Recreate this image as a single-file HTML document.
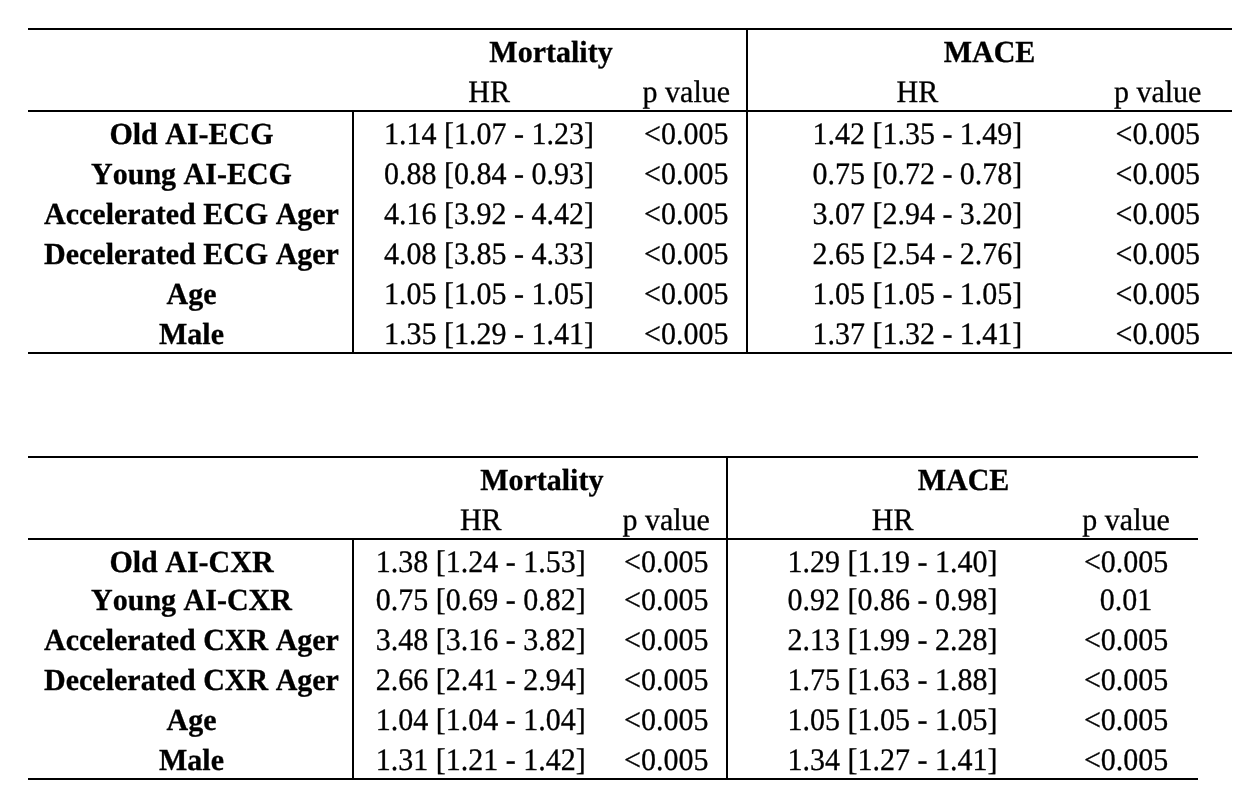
<!DOCTYPE html>
<html><head><meta charset="utf-8"><style>
html,body{margin:0;padding:0;background:#fff;width:1252px;height:808px;overflow:hidden;position:relative}
i{position:absolute;background:#000;display:block}
p{position:absolute;margin:0;text-rendering:geometricPrecision;font-kerning:none;width:600px;height:40px;line-height:40px;text-align:center;white-space:pre;
font-family:"Liberation Serif",serif;font-size:30px;color:#000;-webkit-text-stroke:0.3px #000;transform-origin:300px 30px;transform:scale(1.0,1.04)}
p.b{transform:scale(1.0,1.02)}
p.b{font-weight:bold}
body{will-change:transform}
</style></head><body>
<i style="left:28px;top:28px;width:1204px;height:2px"></i>
<i style="left:28px;top:110px;width:1204px;height:2px"></i>
<i style="left:28px;top:352px;width:1204px;height:2px"></i>
<i style="left:352px;top:110px;width:2px;height:244px"></i>
<i style="left:746px;top:28px;width:2px;height:326px"></i>
<p class="b" style="left:251.00px;top:33.00px">Mortality</p>
<p class="b" style="left:689.50px;top:33.00px">MACE</p>
<p style="left:189.10px;top:73.00px">HR</p>
<p style="left:386.30px;top:73.00px">p value</p>
<p style="left:617.40px;top:73.00px">HR</p>
<p style="left:857.70px;top:73.00px">p value</p>
<p class="b" style="left:-108.50px;top:115.00px">Old AI-ECG</p>
<p style="left:189.10px;top:115.00px">1.14 [1.07 - 1.23]</p>
<p style="left:386.30px;top:115.00px">&lt;0.005</p>
<p style="left:617.40px;top:115.00px">1.42 [1.35 - 1.49]</p>
<p style="left:857.70px;top:115.00px">&lt;0.005</p>
<p class="b" style="left:-108.50px;top:155.00px">Young AI-ECG</p>
<p style="left:189.10px;top:155.00px">0.88 [0.84 - 0.93]</p>
<p style="left:386.30px;top:155.00px">&lt;0.005</p>
<p style="left:617.40px;top:155.00px">0.75 [0.72 - 0.78]</p>
<p style="left:857.70px;top:155.00px">&lt;0.005</p>
<p class="b" style="left:-108.50px;top:195.00px">Accelerated ECG Ager</p>
<p style="left:189.10px;top:195.00px">4.16 [3.92 - 4.42]</p>
<p style="left:386.30px;top:195.00px">&lt;0.005</p>
<p style="left:617.40px;top:195.00px">3.07 [2.94 - 3.20]</p>
<p style="left:857.70px;top:195.00px">&lt;0.005</p>
<p class="b" style="left:-108.50px;top:235.00px">Decelerated ECG Ager</p>
<p style="left:189.10px;top:235.00px">4.08 [3.85 - 4.33]</p>
<p style="left:386.30px;top:235.00px">&lt;0.005</p>
<p style="left:617.40px;top:235.00px">2.65 [2.54 - 2.76]</p>
<p style="left:857.70px;top:235.00px">&lt;0.005</p>
<p class="b" style="left:-108.50px;top:275.00px">Age</p>
<p style="left:189.10px;top:275.00px">1.05 [1.05 - 1.05]</p>
<p style="left:386.30px;top:275.00px">&lt;0.005</p>
<p style="left:617.40px;top:275.00px">1.05 [1.05 - 1.05]</p>
<p style="left:857.70px;top:275.00px">&lt;0.005</p>
<p class="b" style="left:-108.50px;top:315.00px">Male</p>
<p style="left:189.10px;top:315.00px">1.35 [1.29 - 1.41]</p>
<p style="left:386.30px;top:315.00px">&lt;0.005</p>
<p style="left:617.40px;top:315.00px">1.37 [1.32 - 1.41]</p>
<p style="left:857.70px;top:315.00px">&lt;0.005</p>
<i style="left:28px;top:456px;width:1170px;height:2px"></i>
<i style="left:28px;top:538px;width:1170px;height:2px"></i>
<i style="left:28px;top:778px;width:1170px;height:2px"></i>
<i style="left:352px;top:538px;width:2px;height:242px"></i>
<i style="left:726px;top:456px;width:2px;height:324px"></i>
<p class="b" style="left:241.80px;top:461.00px">Mortality</p>
<p class="b" style="left:663.50px;top:461.00px">MACE</p>
<p style="left:180.80px;top:501.00px">HR</p>
<p style="left:366.20px;top:501.00px">p value</p>
<p style="left:592.60px;top:501.00px">HR</p>
<p style="left:826.10px;top:501.00px">p value</p>
<p class="b" style="left:-108.50px;top:543.00px">Old AI-CXR</p>
<p style="left:180.80px;top:543.00px">1.38 [1.24 - 1.53]</p>
<p style="left:366.20px;top:543.00px">&lt;0.005</p>
<p style="left:592.60px;top:543.00px">1.29 [1.19 - 1.40]</p>
<p style="left:826.10px;top:543.00px">&lt;0.005</p>
<p class="b" style="left:-108.50px;top:581.00px">Young AI-CXR</p>
<p style="left:180.80px;top:581.00px">0.75 [0.69 - 0.82]</p>
<p style="left:366.20px;top:581.00px">&lt;0.005</p>
<p style="left:592.60px;top:581.00px">0.92 [0.86 - 0.98]</p>
<p style="left:826.10px;top:581.00px">0.01</p>
<p class="b" style="left:-108.50px;top:621.00px">Accelerated CXR Ager</p>
<p style="left:180.80px;top:621.00px">3.48 [3.16 - 3.82]</p>
<p style="left:366.20px;top:621.00px">&lt;0.005</p>
<p style="left:592.60px;top:621.00px">2.13 [1.99 - 2.28]</p>
<p style="left:826.10px;top:621.00px">&lt;0.005</p>
<p class="b" style="left:-108.50px;top:661.00px">Decelerated CXR Ager</p>
<p style="left:180.80px;top:661.00px">2.66 [2.41 - 2.94]</p>
<p style="left:366.20px;top:661.00px">&lt;0.005</p>
<p style="left:592.60px;top:661.00px">1.75 [1.63 - 1.88]</p>
<p style="left:826.10px;top:661.00px">&lt;0.005</p>
<p class="b" style="left:-108.50px;top:701.00px">Age</p>
<p style="left:180.80px;top:701.00px">1.04 [1.04 - 1.04]</p>
<p style="left:366.20px;top:701.00px">&lt;0.005</p>
<p style="left:592.60px;top:701.00px">1.05 [1.05 - 1.05]</p>
<p style="left:826.10px;top:701.00px">&lt;0.005</p>
<p class="b" style="left:-108.50px;top:741.00px">Male</p>
<p style="left:180.80px;top:741.00px">1.31 [1.21 - 1.42]</p>
<p style="left:366.20px;top:741.00px">&lt;0.005</p>
<p style="left:592.60px;top:741.00px">1.34 [1.27 - 1.41]</p>
<p style="left:826.10px;top:741.00px">&lt;0.005</p>
</body></html>
